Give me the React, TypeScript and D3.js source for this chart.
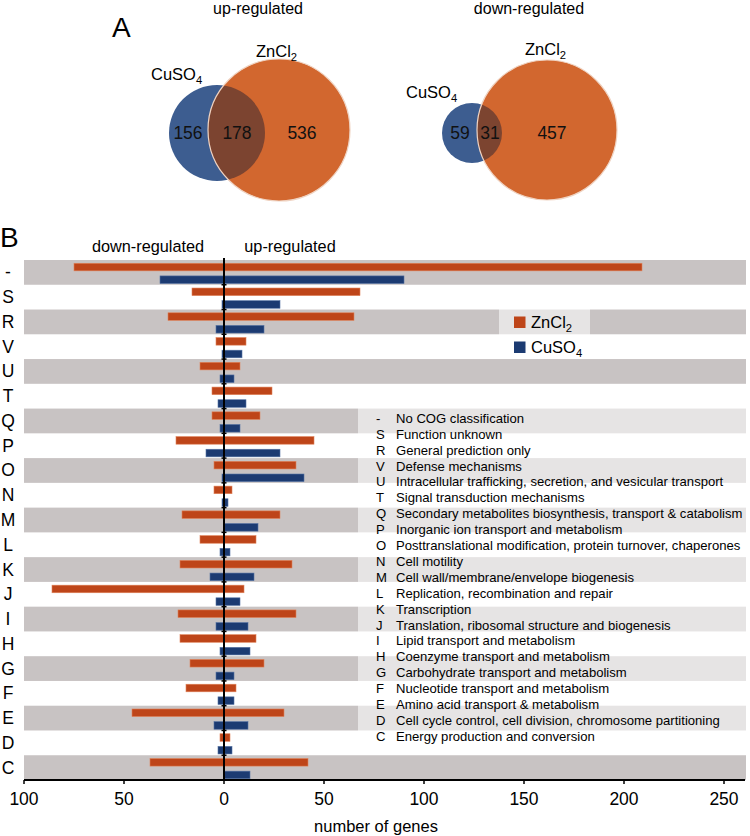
import React from "react";
import * as d3 from "d3";

const categories = ["-", "S", "R", "V", "U", "T", "Q", "P", "O", "N", "M", "L", "K", "J", "I", "H", "G", "F", "E", "D", "C"];
const descriptions = [
  "No COG classification",
  "Function unknown",
  "General prediction only",
  "Defense mechanisms",
  "Intracellular trafficking, secretion, and vesicular transport",
  "Signal transduction mechanisms",
  "Secondary metabolites biosynthesis, transport & catabolism",
  "Inorganic ion transport and metabolism",
  "Posttranslational modification, protein turnover, chaperones",
  "Cell motility",
  "Cell wall/membrane/envelope biogenesis",
  "Replication, recombination and repair",
  "Transcription",
  "Translation, ribosomal structure and biogenesis",
  "Lipid transport and metabolism",
  "Coenzyme transport and metabolism",
  "Carbohydrate transport and metabolism",
  "Nucleotide transport and metabolism",
  "Amino acid transport & metabolism",
  "Cell cycle control, cell division, chromosome partitioning",
  "Energy production and conversion",
];
const znUp = [209, 68, 65, 11, 8, 24, 18, 45, 36, 4, 28, 16, 34, 10, 36, 16, 20, 6, 30, 3, 42];
const znDown = [75, 16, 28, 4, 12, 6, 6, 24, 5, 5, 21, 12, 22, 86, 23, 22, 17, 19, 46, 2, 37];
const cuUp = [90, 28, 20, 9, 5, 11, 8, 28, 40, 2, 17, 3, 15, 8, 12, 13, 5, 5, 12, 4, 13];
const cuDown = [32, 1, 4, 1, 2, 3, 2, 9, 1, 1, 0, 2, 7, 4, 4, 2, 4, 3, 5, 3, 0];
const xTicks = [-100, -50, 0, 50, 100, 150, 200, 250];
const vennUp = { cuOnly: 156, both: 178, znOnly: 536 };
const vennDown = { cuOnly: 59, both: 31, znOnly: 457 };

const FONT = "'Liberation Sans', Arial, Helvetica, sans-serif";
const ORANGE_BAR = "#be4519";
const BLUE_BAR = "#1c3b72";
const V_BLUE = "#3d5d90";
const V_ORANGE = "#d2672f";
const V_OVER = "#7c4430";
const BAND = "#c8c3c3";

function Chem({ x, y, base, sub, anchor = "start", size = 16.5 }: any) {
  return (
    <text x={x} y={y} fontSize={size} textAnchor={anchor} fontFamily={FONT} fill="#000">
      {base}
      <tspan fontSize={size * 0.68} dy={4}>{sub}</tspan>
    </text>
  );
}

function Venn({ id, title, tx, blue, orange, counts, cuLabel, znLabel, numPos }: any) {
  return (
    <g>
      <defs>
        <clipPath id={id}>
          <circle cx={blue.cx} cy={blue.cy} r={blue.r} />
        </clipPath>
      </defs>
      <text x={tx} y={14} textAnchor="middle" fontSize={16} fontFamily={FONT}>{title}</text>
      <circle cx={blue.cx} cy={blue.cy} r={blue.r} fill={V_BLUE} />
      <circle cx={orange.cx} cy={orange.cy} r={orange.r} fill={V_ORANGE} />
      <circle cx={orange.cx} cy={orange.cy} r={orange.r} fill={V_OVER} clipPath={`url(#${id})`} />
      <circle cx={orange.cx} cy={orange.cy} r={orange.r} fill="none" stroke="#efd3c2" strokeWidth={1.2} />
      <Chem x={cuLabel[0]} y={cuLabel[1]} base="CuSO" sub="4" />
      <Chem x={znLabel[0]} y={znLabel[1]} base="ZnCl" sub="2" />
      {[counts.cuOnly, counts.both, counts.znOnly].map((v: number, i: number) => (
        <text key={i} x={numPos[i]} y={blue.cy + 6} textAnchor="middle" fontSize={17.5} fontFamily={FONT} fill="#111">{v}</text>
      ))}
    </g>
  );
}

export default function App() {
  const x = d3.scaleLinear().domain([-100, 260]).range([24, 744]);
  const y = d3.scaleBand<string>().domain(categories).range([260, 780]).paddingInner(0);
  const rowH = y.bandwidth();
  const sub = d3.scaleBand<string>().domain(["zn", "cu"]).range([2, rowH]).paddingInner(0.4).paddingOuter(0.1);
  const bh = sub.bandwidth();
  const x0 = x(0);
  const bandRight = 746;
  const lineH = 15.9;

  return (
    <svg width={750} height={836} style={{ position: "absolute", left: 0, top: 0, background: "#fff" }} fontFamily={FONT}>
      {/* Panel A */}
      <text x={112} y={37} fontSize={28} fontFamily={FONT}>A</text>
      <Venn id="vu" title="up-regulated" tx={258}
        blue={{ cx: 217, cy: 133, r: 48 }} orange={{ cx: 279, cy: 130, r: 71 }}
        counts={vennUp} cuLabel={[151, 80]} znLabel={[256, 57]} numPos={[188, 237, 302]} />
      <Venn id="vd" title="down-regulated" tx={529}
        blue={{ cx: 472, cy: 133, r: 30 }} orange={{ cx: 547, cy: 130, r: 70 }}
        counts={vennDown} cuLabel={[406, 98]} znLabel={[525, 55]} numPos={[460, 490, 552]} />

      {/* Panel B */}
      <text x={0} y={247} fontSize={28} fontFamily={FONT}>B</text>
      <text x={148} y={252} textAnchor="middle" fontSize={16.3}>down-regulated</text>
      <text x={290} y={252} textAnchor="middle" fontSize={16.3}>up-regulated</text>

      {categories.map((c, i) => i % 2 === 0 ? (
        <rect key={c} x={24} y={y(c)!} width={bandRight - 24} height={rowH} fill={BAND} />
      ) : null)}

      {categories.map((c, i) => (
        <g key={"b" + c}>
          <rect x={x(-znDown[i])} y={y(c)! + sub("zn")!} width={x(znUp[i]) - x(-znDown[i])} height={bh}
            fill={ORANGE_BAR} stroke="#e0835a" strokeWidth={0.6} />
          {cuUp[i] + cuDown[i] > 0 && (
            <rect x={x(-cuDown[i])} y={y(c)! + sub("cu")!} width={x(cuUp[i]) - x(-cuDown[i])} height={bh}
              fill={BLUE_BAR} stroke="#5673a3" strokeWidth={0.6} />
          )}
          <text x={8} y={y(c)! + rowH / 2 + 6} textAnchor="middle" fontSize={17.5}>{c}</text>
        </g>
      ))}

      {/* zero line */}
      <line x1={x0} x2={x0} y1={258} y2={780} stroke="#000" strokeWidth={2} />
      {categories.map((c, i) => i > 0 ? (
        <line key={"t" + c} x1={x0 - 2.5} x2={x0 + 2.5} y1={y(c)!} y2={y(c)!} stroke="#000" strokeWidth={1.5} />
      ) : null)}

      {/* legend */}
      <rect x={499} y={309} width={91} height={49} fill="#fff" opacity={0.55} />
      <rect x={514} y={316.5} width={11.5} height={11.5} fill={ORANGE_BAR} />
      <Chem x={531} y={328} base="ZnCl" sub="2" />
      <rect x={514} y={341.5} width={11.5} height={11.5} fill={BLUE_BAR} />
      <Chem x={531} y={353} base="CuSO" sub="4" />

      {/* category description box */}
      <rect x={358} y={405} width={bandRight - 358} height={340} fill="#fff" opacity={0.55} />
      {categories.map((c, i) => (
        <g key={"d" + c} fontSize={13.1}>
          <text x={376} y={418 + i * lineH + 4.8}>{c}</text>
          <text x={396} y={418 + i * lineH + 4.8}>{descriptions[i]}</text>
        </g>
      ))}

      {/* x axis */}
      <line x1={24} x2={745} y1={780} y2={780} stroke="#000" strokeWidth={2} />
      {xTicks.map((t) => (
        <g key={"x" + t}>
          <line x1={x(t)} x2={x(t)} y1={780} y2={784} stroke="#000" strokeWidth={1.5} />
          <text x={x(t)} y={805} textAnchor="middle" fontSize={17.5}>{Math.abs(t)}</text>
        </g>
      ))}
      <text x={376} y={832} textAnchor="middle" fontSize={16.5}>number of genes</text>
    </svg>
  );
}
